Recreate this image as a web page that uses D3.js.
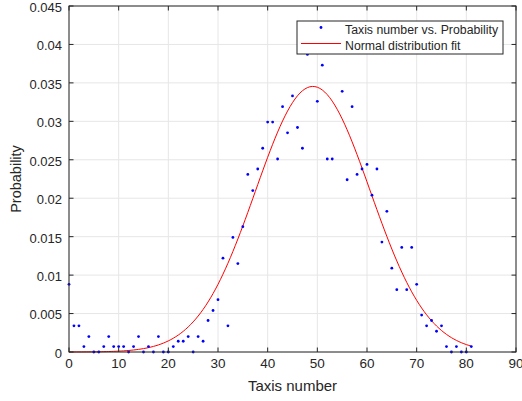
<html><head>
<meta charset="utf-8">
<title>Taxis number vs. Probability</title>
<style>
  body {margin:0; background:#fff;}
  text {font-family:"Liberation Sans", Arial, sans-serif; fill:#262626;}
</style>
</head>
<body>
<script src="https://d3js.org/d3.v7.min.js"></script>
<script>
// data
var taxisNumber = [0,1,2,3,4,5,6,7,8,9,10,11,12,13,14,15,16,17,18,19,20,
  21,22,23,24,25,26,27,28,29,30,31,32,33,34,35,36,37,38,39,40,
  41,42,43,44,45,46,47,48,49,50,51,52,53,54,55,56,57,58,59,60,
  61,62,63,64,65,66,67,68,69,70,71,72,73,74,75,76,77,78,79,80,81];
var probability = [0.0088,0.0034,0.0034,0.0007,0.0020,0,0,0.0007,0.0020,0.0007,0.0007,
  0.0007,0,0.0007,0.0020,0,0.0007,0,0.0020,0,0,
  0.0007,0.0014,0.0014,0.0020,0,0.0020,0.0014,0.0041,0.0054,0.0068,
  0.0122,0.0034,0.0149,0.0115,0.0163,0.0231,0.0210,0.0238,0.0265,0.0299,
  0.0299,0.0251,0.0319,0.0285,0.0333,0.0292,0.0265,0.0387,0.0407,0.0326,
  0.0373,0.0251,0.0251,0.0401,0.0339,0.0224,0.0319,0.0231,0.0238,0.0244,
  0.0204,0.0238,0.0143,0.0183,0.0109,0.0081,0.0136,0.0081,0.0136,0.0088,
  0.0048,0.0034,0.0041,0.0027,0.0034,0.0007,0,0.0007,0,0,0.0007];
// normal fit parameters (mean, sd)
var fitMu = 49.1, fitSigma = 11.55;
var xTicks = [0,10,20,30,40,50,60,70,80,90];
var yTicks = [0,0.005,0.01,0.015,0.02,0.025,0.03,0.035,0.04,0.045];
var yTickLabels = ["0","0.005","0.01","0.015","0.02","0.025","0.03","0.035","0.04","0.045"];
var legendLabels = ["Taxis number vs. Probability","Normal distribution fit"];

var width = 522, height = 401;
var margin = {left:69, top:6, right:6, bottom:49};
var iw = width - margin.left - margin.right;
var ih = height - margin.top - margin.bottom;

var svg = d3.select("body").append("svg")
  .attr("width", width).attr("height", height);
var g = svg.append("g")
  .attr("transform", "translate(" + margin.left + "," + margin.top + ")");

var x = d3.scaleLinear().domain([0,90]).range([0,iw]);
var y = d3.scaleLinear().domain([0,0.045]).range([ih,0]);

// grid
g.selectAll(".gx").data(xTicks).enter().append("line")
  .attr("x1", function(d){return x(d);}).attr("x2", function(d){return x(d);})
  .attr("y1", 0).attr("y2", ih)
  .attr("stroke", "#e6e6e6").attr("stroke-width", 1);
g.selectAll(".gy").data(yTicks).enter().append("line")
  .attr("y1", function(d){return y(d);}).attr("y2", function(d){return y(d);})
  .attr("x1", 0).attr("x2", iw)
  .attr("stroke", "#e6e6e6").attr("stroke-width", 1);

// fit curve
var fitX = d3.range(0, 81.01, 0.5);
var pdf = function(t){
  return Math.exp(-0.5*Math.pow((t-fitMu)/fitSigma,2))/(fitSigma*Math.sqrt(2*Math.PI));
};
var line = d3.line().x(function(d){return x(d);}).y(function(d){return y(pdf(d));});
g.append("path").datum(fitX)
  .attr("d", line).attr("fill","none")
  .attr("stroke","#ff0000").attr("stroke-width",1);

// points
g.selectAll(".pt").data(taxisNumber).enter().append("circle")
  .attr("cx", function(d){return x(d);})
  .attr("cy", function(d,i){return y(probability[i]);})
  .attr("r", 1.4).attr("fill","#0000ff");

// box and ticks
var tl = 4.5;
g.append("rect").attr("width", iw).attr("height", ih)
  .attr("fill","none").attr("stroke","#262626").attr("stroke-width",1);
xTicks.forEach(function(d){
  g.append("line").attr("x1",x(d)).attr("x2",x(d)).attr("y1",ih).attr("y2",ih-tl).attr("stroke","#262626");
  g.append("line").attr("x1",x(d)).attr("x2",x(d)).attr("y1",0).attr("y2",tl).attr("stroke","#262626");
  g.append("text").attr("x",x(d)).attr("y",ih+16).attr("text-anchor","middle")
    .attr("font-size","13.5px").text(d);
});
yTicks.forEach(function(d,i){
  g.append("line").attr("x1",0).attr("x2",tl).attr("y1",y(d)).attr("y2",y(d)).attr("stroke","#262626");
  g.append("line").attr("x1",iw).attr("x2",iw-tl).attr("y1",y(d)).attr("y2",y(d)).attr("stroke","#262626");
  g.append("text").attr("x",-7).attr("y",y(d)).attr("dy","0.45em").attr("text-anchor","end")
    .attr("font-size","13px").text(yTickLabels[i]);
});

// axis labels
svg.append("text").attr("x", margin.left + iw/2).attr("y", 391)
  .attr("text-anchor","middle").attr("font-size","15px").text("Taxis number");
svg.append("text").attr("transform","translate(21," + (margin.top + ih/2) + ") rotate(-90)")
  .attr("text-anchor","middle").attr("font-size","14.5px").text("Probability");

// legend
var lg = svg.append("g").attr("transform","translate(297,21)");
lg.append("rect").attr("width",206).attr("height",33)
  .attr("fill","#fff").attr("stroke","#262626").attr("stroke-width",1);
lg.append("circle").attr("cx",24).attr("cy",6.5).attr("r",1.4).attr("fill","#0000ff");
lg.append("line").attr("x1",4).attr("x2",44).attr("y1",22.5).attr("y2",22.5)
  .attr("stroke","#ff0000").attr("stroke-width",1);
lg.selectAll(".lt").data(legendLabels).enter().append("text")
  .attr("x",48).attr("y",function(d,i){return 13 + i*16;})
  .attr("font-size","12.3px").text(function(d){return d;});
</script>
</body></html>
